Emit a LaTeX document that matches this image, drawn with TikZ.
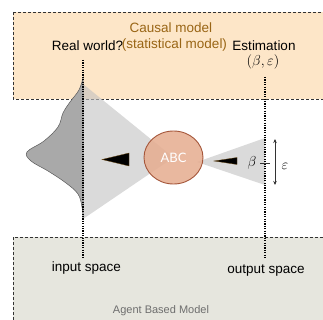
\documentclass[tikz,border=0pt]{standalone}
\usepackage{fontspec}
\setmainfont{Liberation Sans}
\newfontfamily\abcfont{Lato}
\usetikzlibrary{arrows.meta,shapes.geometric}
\definecolor{causalfill}{HTML}{FDE6C8}
\definecolor{abmfill}{HTML}{E6E6DE}
\definecolor{brownlabel}{HTML}{996515}
\definecolor{abmtext}{HTML}{6E6E6E}
\definecolor{conegray}{HTML}{C1C1C1}
\definecolor{bellgray}{HTML}{A9A9A9}
\definecolor{abcfill}{HTML}{E6AE92}
\definecolor{abcdraw}{HTML}{A5563A}
\tikzset{
  modelbox/.style={draw=black!80, line width=0.8pt, dash pattern=on 3pt off 2pt},
  bigtext/.style={font=\fontsize{13.5}{15}\selectfont, inner sep=0pt},
  smalltext/.style={font=\fontsize{11}{13}\selectfont, inner sep=0pt},
  mathtext/.style={font=\fontsize{15}{17}\selectfont, inner sep=0pt},
  cone/.style={fill=conegray, fill opacity=0.6},
  pointer/.style={fill=black, draw=brownlabel!70!black, line width=0.3pt},
  spaceline/.style={black, line width=1.4pt, dash pattern=on 1.2pt off 1.2pt},
}
\begin{document}
\begin{tikzpicture}[x=1pt,y=-1pt]
\useasboundingbox (0,0) rectangle (323,320);
% model boxes
\draw[modelbox, fill=causalfill] (13,12) rectangle (340,99);
\draw[modelbox, fill=abmfill] (13,237) rectangle (340,340);
% texts in boxes
\node[bigtext, text=brownlabel] (causal) at (171,28) {Causal model};
\node[bigtext] (real) at (87.5,46) {Real world?};
\node[bigtext, text=brownlabel] (stat) at (174.5,45) {(statistical model)};
\node[bigtext] (estim) at (264,46) {Estimation};
\node[mathtext] (betaeps) at (263,62) {$(\beta,\varepsilon)$};
\node[bigtext] (inspace) at (86.5,268) {input space};
\node[bigtext] (outspace) at (266,271) {output space};
\node[smalltext, text=abmtext] (abm) at (161,311) {Agent Based Model};
% cones
\draw[cone, draw=none] (83,84) -- (173.5,157.5) -- (83,219) -- cycle;
\draw[cone, draw=none] (197,162) -- (265,138) -- (265,185) -- cycle;
% bell curve (input distribution)
\draw[fill=bellgray, draw=black!65, line width=0.5pt]
  plot[smooth, tension=0.6] coordinates {(83,78) (79,90) (70,102) (63,113) (58,127) (44,141) (27,152) (31,161) (48,171) (66,183) (78,194) (82,207) (83,218)} -- cycle;
% dotted space lines
\coordinate (intop) at (83,60);
\coordinate (inbot) at (83,257);
\coordinate (outtop) at (265,77);
\coordinate (outbot) at (265,258);
\draw[spaceline] (intop) -- (inbot);
\draw[spaceline] (outtop) -- (outbot);
% ABC node
\node[ellipse, minimum width=59pt, minimum height=53pt, inner sep=0pt,
      fill=abcfill, fill opacity=0.88, text opacity=1, draw=abcdraw, line width=0.9pt,
      text=white, font=\abcfont\fontsize{13}{15}\selectfont] (abc) at (173.5,157.5) {ABC};
% pointers
\draw[pointer] (102,159.5) -- (129,153) -- (129,166) -- cycle;
\draw[pointer] (214,161) -- (237,157.5) -- (237,164.5) -- cycle;
% beta, tick and epsilon range
\node[mathtext] (beta) at (252,163) {$\beta$};
\coordinate (tickl) at (260,163);
\coordinate (tickr) at (270,163);
\draw[black!80, line width=0.8pt] (tickl) -- (tickr);
\coordinate (epstop) at (275,139);
\coordinate (epsbot) at (275,185);
\draw[black!80, line width=0.8pt, {Stealth[length=4pt,width=3.5pt]}-{Stealth[length=4pt,width=3.5pt]}] (epstop) -- (epsbot);
\node[mathtext] (eps) at (285,166) {$\varepsilon$};
\end{tikzpicture}
\end{document}
